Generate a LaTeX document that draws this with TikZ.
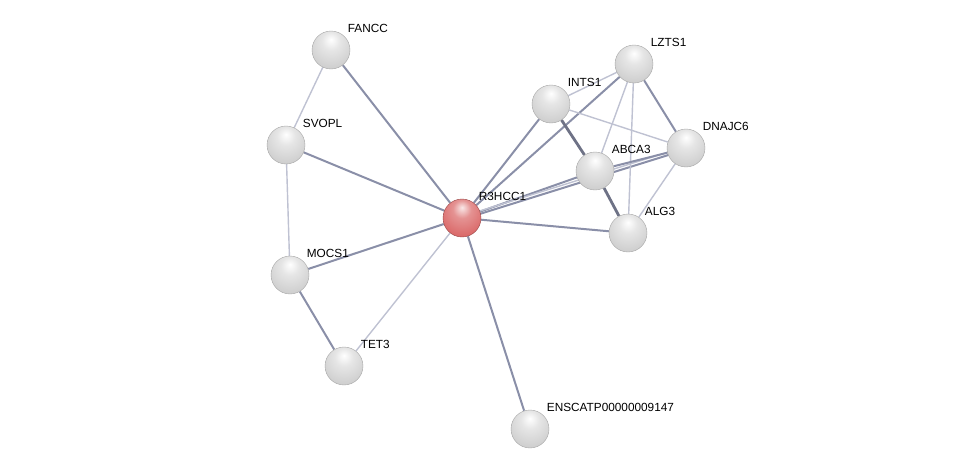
\documentclass[tikz,border=0pt]{standalone}
\usepackage{fontspec}
\setmainfont{Liberation Sans}
\usetikzlibrary{backgrounds}
\definecolor{Ec}{HTML}{8A8FA8}
\definecolor{Lt}{HTML}{BFC2D2}
\definecolor{Hub}{HTML}{D96464}
\pgfdeclareradialshading{sphw}{\pgfpoint{0bp}{14bp}}{color(0bp)=(white); color(12bp)=(white!90!black); color(34bp)=(white!80!black); color(52bp)=(white!62!black); color(75bp)=(white!45!black)}
\pgfdeclareradialshading{sphr}{\pgfpoint{0bp}{14bp}}{color(0bp)=(white!85!Hub); color(12bp)=(white!30!Hub); color(34bp)=(Hub); color(52bp)=(Hub!75!black); color(75bp)=(Hub!60!black)}

\begin{document}
\begin{tikzpicture}[x=1pt, y=-1pt, font=\fontsize{11.8}{14}\selectfont,
    prot/.style={circle, minimum size=38pt, inner sep=0pt, shading=sphw, draw=white!65!black, line width=0.4pt},
    hub/.style={prot, shading=sphr, draw=Hub!70!black},
    lbl/.style={anchor=south west, inner sep=1pt, label distance=3pt},
    wk/.style={Lt, line width=1.4pt},
    md/.style={Ec, line width=2pt},
    st/.style={Ec!80!black, line width=2.8pt}]
  \useasboundingbox (0,0) rectangle (976,474);
  \node[hub]  (r3)   at (462,218) [label={[lbl]45:R3HCC1}] {};
  \node[prot] (fancc) at (331,50)  [label={[lbl]45:FANCC}] {};
  \node[prot] (svopl) at (286,145) [label={[lbl]45:SVOPL}] {};
  \node[prot] (mocs)  at (290,275) [label={[lbl]45:MOCS1}] {};
  \node[prot] (tet)   at (344,366) [label={[lbl]45:TET3}] {};
  \node[prot] (ens)   at (530,429) [label={[lbl]45:ENSCATP00000009147}] {};
  \node[prot] (ints)  at (551,104) [label={[lbl]45:INTS1}] {};
  \node[prot] (lzts)  at (634,64)  [label={[lbl]45:LZTS1}] {};
  \node[prot] (dnaj)  at (686,148) [label={[lbl]45:DNAJC6}] {};
  \node[prot] (abca)  at (595,171) [label={[lbl]45:ABCA3}] {};
  \node[prot] (alg)   at (628,233) [label={[lbl]45:ALG3}] {};
  \begin{pgfonlayer}{background}
    % left group
    \draw[wk] (fancc) -- (svopl);
    \draw[md] (fancc) -- (r3);
    \draw[md] (svopl) -- (r3);
    \draw[wk] (svopl) -- (mocs);
    \draw[md] (mocs) -- (r3);
    \draw[md] (mocs) -- (tet);
    \draw[wk] (tet) -- (r3);
    \draw[md] (r3) -- (ens);
    % right group
    \draw[md] (r3) -- (ints);
    \draw[md] (r3) -- (lzts);
    \draw[md] (r3) -- (abca);
    \draw[md] ([yshift=-1.5pt]r3.center) -- ([yshift=-1.5pt]dnaj.center);
    \draw[wk] ([yshift=1.5pt]r3.center) -- ([yshift=1.5pt]dnaj.center);
    \draw[md] (r3) -- (alg);
    \draw[wk] (ints) -- (lzts);
    \draw[wk] (ints) -- (dnaj);
    \draw[st] (ints) -- (abca);
    \draw[st] (abca) -- (alg);
    \draw[wk] (lzts) -- (abca);
    \draw[wk] (lzts) -- (alg);
    \draw[md] (lzts) -- (dnaj);
    \draw[md] (abca) -- (dnaj);
    \draw[wk] (dnaj) -- (alg);
  \end{pgfonlayer}
\end{tikzpicture}
\end{document}
